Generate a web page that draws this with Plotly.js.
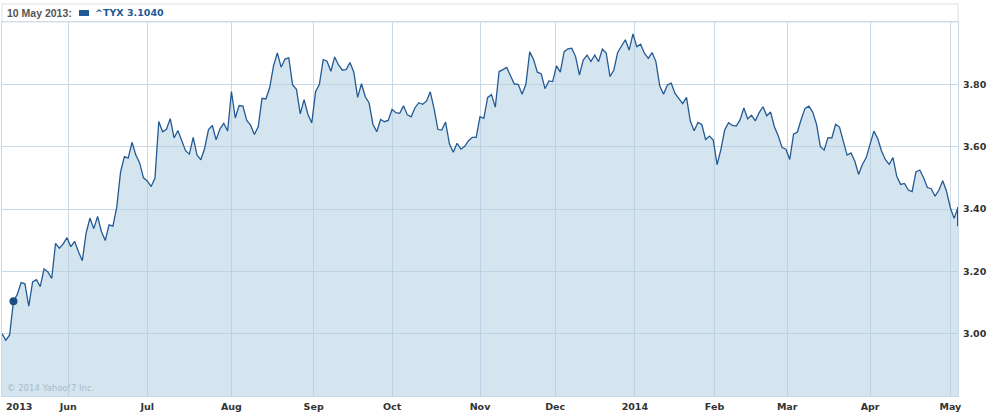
<!DOCTYPE html>
<html>
<head>
<meta charset="utf-8">
<script src="https://cdn.plot.ly/plotly-3.0.1.min.js"></script>
<style>
  html, body { margin: 0; padding: 0; background: #ffffff; }
  #chart { width: 989px; height: 415px; }
</style>
</head>
<body>
<div id="chart"></div>
<script>
// ^TYX daily close, trading days from 7 May 2013 to 5 May 2014 (index = trading day)
const tyxValues = [
  3.000, 2.979, 2.996, 3.104, 3.126, 3.164, 3.160, 3.088, 3.166, 3.173,
  3.151, 3.208, 3.198, 3.177, 3.290, 3.274, 3.288, 3.308, 3.279, 3.296,
  3.263, 3.234, 3.323, 3.371, 3.337, 3.376, 3.328, 3.299, 3.349, 3.345,
  3.405, 3.518, 3.568, 3.563, 3.614, 3.573, 3.548, 3.500, 3.490, 3.472,
  3.499, 3.681, 3.648, 3.656, 3.690, 3.628, 3.652, 3.617, 3.587, 3.576,
  3.630, 3.573, 3.558, 3.595, 3.655, 3.668, 3.622, 3.657, 3.675, 3.650,
  3.777, 3.692, 3.732, 3.730, 3.684, 3.669, 3.639, 3.664, 3.755, 3.753,
  3.789, 3.859, 3.901, 3.855, 3.881, 3.885, 3.798, 3.784, 3.705, 3.751,
  3.704, 3.676, 3.776, 3.800, 3.879, 3.874, 3.842, 3.888, 3.862, 3.846,
  3.847, 3.870, 3.839, 3.758, 3.802, 3.760, 3.740, 3.672, 3.648, 3.687,
  3.680, 3.684, 3.720, 3.709, 3.707, 3.731, 3.702, 3.696, 3.725, 3.741,
  3.736, 3.746, 3.776, 3.721, 3.655, 3.653, 3.679, 3.609, 3.582, 3.611,
  3.592, 3.601, 3.619, 3.630, 3.630, 3.696, 3.691, 3.758, 3.767, 3.727,
  3.841, 3.847, 3.854, 3.827, 3.801, 3.800, 3.768, 3.800, 3.904, 3.880,
  3.839, 3.834, 3.786, 3.811, 3.809, 3.859, 3.839, 3.905, 3.914, 3.916,
  3.889, 3.830, 3.878, 3.894, 3.873, 3.894, 3.873, 3.913, 3.900, 3.825,
  3.846, 3.902, 3.921, 3.943, 3.910, 3.962, 3.921, 3.929, 3.900, 3.883,
  3.902, 3.873, 3.795, 3.768, 3.798, 3.804, 3.771, 3.753, 3.738, 3.758,
  3.682, 3.651, 3.678, 3.671, 3.623, 3.634, 3.621, 3.542, 3.591, 3.654,
  3.677, 3.668, 3.666, 3.686, 3.724, 3.689, 3.701, 3.683, 3.709, 3.728,
  3.699, 3.711, 3.663, 3.634, 3.597, 3.592, 3.559, 3.640, 3.647, 3.688,
  3.723, 3.730, 3.711, 3.672, 3.601, 3.589, 3.629, 3.628, 3.672, 3.663,
  3.613, 3.573, 3.580, 3.554, 3.511, 3.543, 3.565, 3.611, 3.650, 3.626,
  3.586, 3.559, 3.543, 3.565, 3.504, 3.479, 3.482, 3.461, 3.456, 3.519,
  3.525, 3.500, 3.469, 3.465, 3.441, 3.460, 3.491, 3.457, 3.404, 3.370,
  3.406
];
const tradingIndex = tyxValues.map((_, i) => i);

// month boundaries (in trading-day index) and their labels
const monthTickIndex = [17.33, 38, 60, 81.5, 102, 125, 144.67, 165.5, 186.33, 205.33, 227, 248];
const monthTickText  = ['Jun', 'Jul', 'Aug', 'Sep', 'Oct', 'Nov', 'Dec', '2014', 'Feb', 'Mar', 'Apr', 'May'];
const firstYearLabel = '2013';

// y axis ticks
const yTickVals = [3.00, 3.20, 3.40, 3.60, 3.80];
const yTickText = ['3.00', '3.20', '3.40', '3.60', '3.80'];

// highlighted point (hover readout) and current-level marker
const highlightIndex = 3;
const highlightDate = '10 May 2013:';
const seriesName = '^TYX';
const highlightValue = '3.1040';
const currentMarkerLow = 3.345;

const lastIdx = tradingIndex[tradingIndex.length - 1];
const lastVal = tyxValues[tyxValues.length - 1];

const FONT = 'DejaVu Sans, Verdana, sans-serif';
const GRID = '#c8d8e5';
const LINE = '#245a93';

const traces = [
  {
    x: tradingIndex,
    y: tyxValues,
    type: 'scatter',
    mode: 'lines',
    line: { color: LINE, width: 1.3 },
    fill: 'tozeroy',
    fillcolor: 'rgba(172,204,226,0.5)',
    hoverinfo: 'skip'
  },
  {
    x: [tradingIndex[highlightIndex]],
    y: [tyxValues[highlightIndex]],
    type: 'scatter',
    mode: 'markers',
    marker: { color: '#1c4e85', size: 8 },
    hoverinfo: 'skip'
  }
];

const PLOT_TOP = 22, PLOT_BOTTOM = 396, PLOT_LEFT = 2, PLOT_RIGHT = 958;
const ph = PLOT_BOTTOM - PLOT_TOP, pw = PLOT_RIGHT - PLOT_LEFT;
const py = v => (PLOT_BOTTOM - v) / ph;   // pixel y -> paper y
const px = v => (v - PLOT_LEFT) / pw;     // pixel x -> paper x

const TICKFONT = { family: FONT, size: 9.5, color: '#333333', weight: 'bold' };

const layout = {
  width: 989,
  height: 415,
  margin: { l: PLOT_LEFT, r: 989 - PLOT_RIGHT, t: PLOT_TOP, b: 415 - PLOT_BOTTOM, pad: 0 },
  paper_bgcolor: '#ffffff',
  plot_bgcolor: '#ffffff',
  showlegend: false,
  xaxis: {
    range: [0, lastIdx],
    tickmode: 'array',
    tickvals: monthTickIndex,
    ticktext: monthTickText,
    showgrid: true,
    gridcolor: GRID,
    gridwidth: 1,
    zeroline: false,
    showline: true,
    mirror: true,
    linecolor: GRID,
    linewidth: 1,
    ticks: '',
    ticklabelstandoff: 2,
    tickfont: TICKFONT,
    fixedrange: true
  },
  yaxis: {
    side: 'right',
    range: [2.8, 4.0],
    tickmode: 'array',
    tickvals: yTickVals,
    ticktext: yTickText,
    showgrid: true,
    gridcolor: GRID,
    gridwidth: 1,
    zeroline: false,
    showline: true,
    mirror: true,
    linecolor: GRID,
    linewidth: 1,
    ticks: '',
    ticklabelstandoff: 2,
    tickfont: TICKFONT,
    fixedrange: true
  },
  shapes: [
    {
      type: 'rect', xref: 'paper', yref: 'paper',
      x0: 0, x1: 1, y0: 1, y1: py(4),
      line: { color: '#d9e1e8', width: 1 }, fillcolor: 'rgba(0,0,0,0)'
    },
    {
      type: 'rect', xref: 'paper', yref: 'paper',
      x0: px(79), x1: px(89), y0: py(16), y1: py(10),
      line: { width: 0 }, fillcolor: '#1f5a96'
    },
    {
      type: 'line', xref: 'x', yref: 'y',
      x0: lastIdx, x1: lastIdx, y0: lastVal, y1: currentMarkerLow,
      line: { color: '#ff0000', width: 2 }
    }
  ],
  annotations: [
    {
      text: highlightDate, xref: 'paper', yref: 'paper',
      x: px(5), y: py(13), xanchor: 'left', yanchor: 'middle', showarrow: false,
      font: { family: 'Liberation Sans, Arial, sans-serif', size: 10.5, color: '#555555', weight: 'bold' }
    },
    {
      text: seriesName + ' ' + highlightValue, xref: 'paper', yref: 'paper',
      x: px(93), y: py(13), xanchor: 'left', yanchor: 'middle', showarrow: false,
      font: { family: FONT, size: 9.5, color: '#1f5a96', weight: 'bold' }
    },
    {
      text: '© 2014 Yahoo!7 Inc.', xref: 'paper', yref: 'paper',
      x: px(5), y: py(388), xanchor: 'left', yanchor: 'middle', showarrow: false,
      font: { family: FONT, size: 8.5, color: '#a9b9c8' }
    },
    {
      text: firstYearLabel, xref: 'x', yref: 'paper',
      x: 0, xshift: 2, y: py(407), xanchor: 'left', yanchor: 'middle', showarrow: false,
      font: TICKFONT
    }
  ]
};

Plotly.newPlot('chart', traces, layout, { displayModeBar: false, staticPlot: true });
</script>
</body>
</html>
